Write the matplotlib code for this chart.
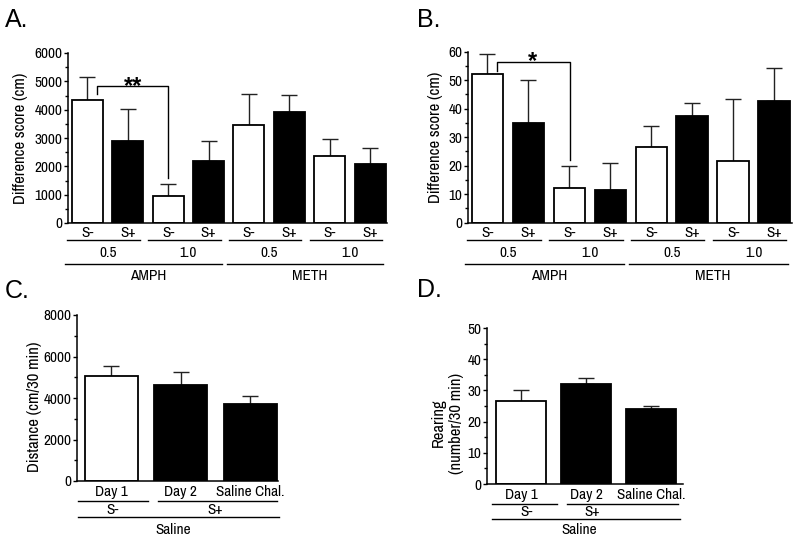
import matplotlib
matplotlib.use('Agg')
import matplotlib.pyplot as plt
from matplotlib.ticker import MultipleLocator
from matplotlib import transforms, font_manager
import numpy as np

# pick a narrow sans close to Arial Narrow, if one is installed
installed = {f.name for f in font_manager.fontManager.ttflist}
narrow_pref = ['Liberation Sans Narrow', 'Arial Narrow', 'Nimbus Sans Narrow', 'Archivo Narrow',
               'PT Sans Narrow', 'Roboto Condensed', 'Liberation Sans']
NARROW = next(f for f in narrow_pref if f in installed or f == 'Liberation Sans')
plt.rcParams['font.family'] = [NARROW, 'Liberation Sans', 'DejaVu Sans']

W, H = 800, 541

# panel A / B : conditioned groups
ab_signal = ['S-', 'S+', 'S-', 'S+', 'S-', 'S+', 'S-', 'S+']
ab_dose = ['0.5', '1.0', '0.5', '1.0']
ab_drug = ['AMPH', 'METH']
a_mean = [4350, 2880, 940, 2180, 3450, 3920, 2350, 2080]
a_sem = [800, 1150, 440, 700, 1120, 590, 610, 570]
b_mean = [52.0, 34.9, 12.3, 11.6, 26.7, 37.5, 21.5, 42.6]
b_sem = [7.1, 15.2, 7.6, 9.3, 7.3, 4.5, 21.9, 11.6]
ab_fill = ['white', 'black'] * 4

# panel C / D : saline
cd_day = ['Day 1', 'Day 2', 'Saline Chal.']
cd_signal = ['S-', 'S+']
c_mean = [5060, 4630, 3690]
c_sem = [480, 640, 410]
d_mean = [26.7, 32.0, 23.9]
d_sem = [3.3, 2.1, 1.0]
cd_fill = ['white', 'black', 'black']

fig = plt.figure(figsize=(W / 100, H / 100), dpi=100)
fig.patch.set_facecolor('white')


def place(left, top, right, bottom):
    return fig.add_axes([left / W, 1 - bottom / H, (right - left) / W, (bottom - top) / H])


def style(ax, ymax, major, minor):
    for s in ['top', 'right']:
        ax.spines[s].set_visible(False)
    for s in ['left', 'bottom']:
        ax.spines[s].set_linewidth(1.1)
    ax.set_ylim(0, ymax)
    ax.yaxis.set_major_locator(MultipleLocator(major))
    ax.yaxis.set_minor_locator(MultipleLocator(minor))
    ax.tick_params(axis='y', which='major', direction='out', length=3, width=1, pad=1, labelsize=11)
    ax.tick_params(axis='y', which='minor', direction='out', length=2, width=1)
    ax.set_xticks([])


def bars(ax, means, sems, fills, width):
    x = np.arange(len(means))
    ax.errorbar(x, means, yerr=[np.zeros(len(sems)), sems], fmt='none', ecolor='#222222',
                elinewidth=1, capsize=6, capthick=1, zorder=1)
    ax.bar(x, means, width=width, color=fills, edgecolor='black', linewidth=1.3, zorder=2)


def ypx(ax):
    # x in data, y in figure pixels from top
    return transforms.blended_transform_factory(ax.transData,
                                                transforms.Affine2D().scale(1, -1).translate(0, H))


def hline(ax, x0, x1, y):
    ax.plot([x0, x1], [y, y], color='black', lw=1, transform=ypx(ax), clip_on=False)


def label(ax, x, y, s, size=11):
    ax.text(x, y, s, transform=ypx(ax), ha='center', va='center', fontsize=size)


def ab_axis(ax, ys):
    for i, s in enumerate(ab_signal):
        label(ax, i, ys[0], s)
    for k, d in enumerate(ab_dose):
        hline(ax, 2 * k - 0.5, 2 * k + 1.3, ys[1])
        label(ax, 2 * k + 0.5, ys[2], d)
    for k, d in enumerate(ab_drug):
        hline(ax, 4 * k - 0.55, 4 * k + 3.33, ys[3])
        label(ax, 4 * k + 1.5, ys[4], d)


# ---- A
axA = place(68, 53, 387, 223)
bars(axA, a_mean, a_sem, ab_fill, 0.77)
style(axA, 6000, 1000, 500)
axA.set_xlim(-0.483, 7.42)
axA.set_ylabel('Difference score (cm)', fontsize=12)
axA.yaxis.set_label_coords(-0.125, 0.5)
ab_axis(axA, [233, 239.5, 253, 263.5, 276])
axA.plot([0.235, 0.235, 2.0, 2.0], [4540, 4840, 4840, 1580], color='black', lw=1, zorder=3)
axA.text(1.13, 4600, '**', ha='center', va='baseline', fontsize=17, fontweight='bold',
         family='Liberation Sans')

# ---- B
axB = place(468, 51.7, 791.7, 222.7)
bars(axB, b_mean, b_sem, ab_fill, 0.77)
style(axB, 60, 10, 5)
axB.set_xlim(-0.476, 7.43)
axB.set_ylabel('Difference score (cm)', fontsize=12)
axB.yaxis.set_label_coords(-0.077, 0.5)
ab_axis(axB, [233, 239.5, 253, 263.5, 276])
axB.plot([0.225, 0.225, 2.02, 2.02], [53.3, 56.5, 56.5, 22], color='black', lw=1, zorder=3)
axB.text(1.10, 54.4, '*', ha='center', va='baseline', fontsize=17, fontweight='bold',
         family='Liberation Sans')

# ---- C
axC = place(77, 315, 278, 481)
bars(axC, c_mean, c_sem, cd_fill, 0.765)
style(axC, 8000, 2000, 1000)
axC.set_xlim(-0.498, 2.404)
axC.set_ylabel('Distance (cm/30 min)', fontsize=12)
axC.yaxis.set_label_coords(-0.174, 0.446)
for i, s in enumerate(cd_day):
    label(axC, i, 492, s)
hline(axC, -0.48, 0.53, 501)
hline(axC, 0.67, 2.39, 501)
label(axC, 0.02, 509.5, cd_signal[0])
label(axC, 1.5, 509.5, cd_signal[1])
hline(axC, -0.48, 2.42, 517)
label(axC, 0.89, 529.5, 'Saline')

# ---- D
axD = place(487, 328, 683, 484)
bars(axD, d_mean, d_sem, cd_fill, 0.77)
style(axD, 50, 10, 5)
axD.set_xlim(-0.523, 2.49)
axD.set_ylabel('Rearing\n(number/30 min)', fontsize=12, linespacing=1.3)
axD.yaxis.set_label_coords(-0.115, 0.39)
for i, s in enumerate(cd_day):
    label(axD, i, 495, s)
hline(axD, -0.45, 0.55, 504)
hline(axD, 0.71, 2.42, 504)
label(axD, 0.09, 512.5, cd_signal[0])
label(axD, 1.09, 512.5, cd_signal[1])
hline(axD, -0.45, 2.45, 519)
label(axD, 0.89, 530.5, 'Saline')

# panel letters
for s, x, y in [('A.', 5, 27), ('B.', 417, 27), ('C.', 5, 298), ('D.', 417, 297)]:
    fig.text(x / W, 1 - y / H, s, fontsize=18, family='Liberation Sans', va='baseline')

fig.savefig('out.png', dpi=100, facecolor='white')
